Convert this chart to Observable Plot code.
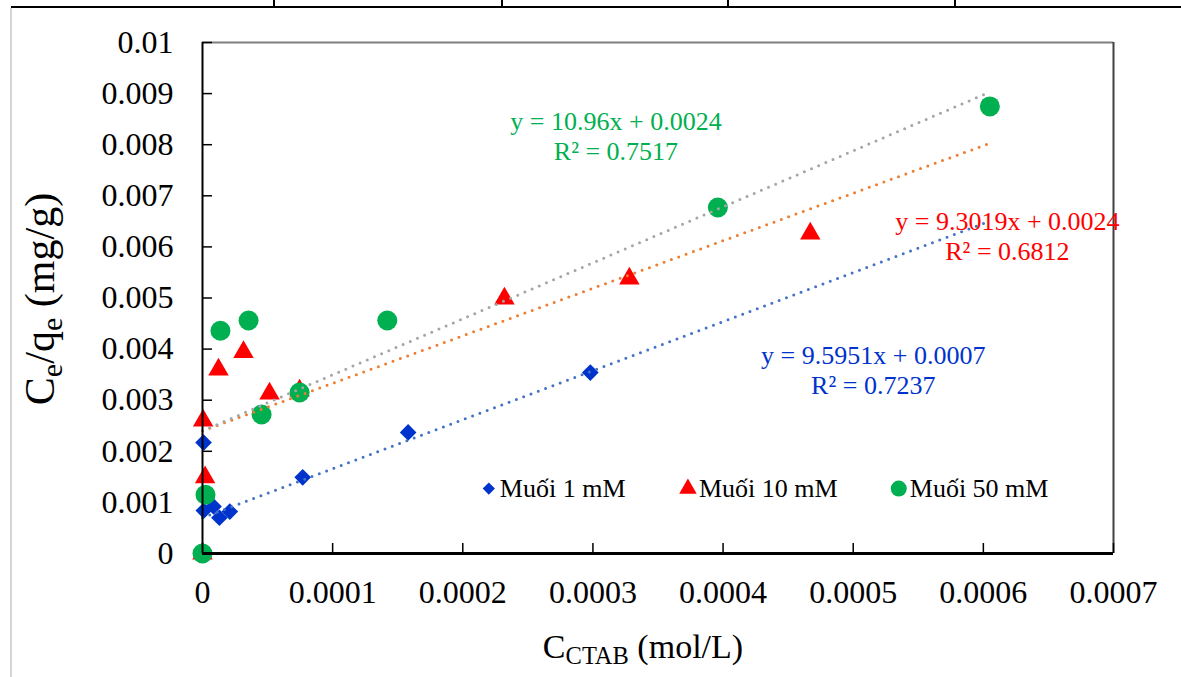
<!DOCTYPE html>
<html><head><meta charset="utf-8">
<script src="https://cdn.jsdelivr.net/npm/d3@7"></script>
<script src="https://cdn.jsdelivr.net/npm/@observablehq/plot@0.6"></script>
<style>
body{margin:0;background:#fff;}
#wrap{position:relative;width:1181px;height:677px;overflow:hidden;font-family:"Liberation Serif","Times New Roman",serif;background:#fff;}
#wrap svg{position:absolute;left:0;top:0;}
#wrap svg text{font-family:"Liberation Serif","Times New Roman",serif;}
.ttl{position:absolute;white-space:nowrap;color:#000;font-size:34px;line-height:1;}
.ttl sub{font-size:0.72em;vertical-align:-0.25em;line-height:0;}
.ln{position:absolute;}
</style></head><body><div id="wrap"></div>
<script>
// ---- data ----
const seriesNames = ["Muối 1 mM", "Muối 10 mM", "Muối 50 mM"];
const x1 = [0, 0.0000008, 0.000001, 0.0000085, 0.000013, 0.000021, 0.000077, 0.000158, 0.000298];
const y1 = [0, 0.00217, 0.00084, 0.00092, 0.0007, 0.00082, 0.00149, 0.00237, 0.00354];
const x2 = [0, 0.0000005, 0.000002, 0.0000123, 0.0000315, 0.0000515, 0.0000746, 0.000232, 0.000328, 0.000467];
const y2 = [0, 0.0026, 0.00149, 0.0036, 0.00394, 0.00313, 0.00319, 0.00499, 0.00538, 0.00626];
const x3 = [0, 0.0000023, 0.0000138, 0.0000354, 0.0000454, 0.0000746, 0.000142, 0.000396, 0.000605];
const y3 = [0, 0.00115, 0.00436, 0.00456, 0.00272, 0.00315, 0.00456, 0.00677, 0.00875];
const slopes = [9.5951, 9.3019, 10.96];
const intercepts = [0.0007, 0.0024, 0.0024];
const r2 = [0.7237, 0.6812, 0.7517];
const trendRange = [0, 0.000605];
const labelX = [0.0005154, 0.0006185, 0.0003177];
const labelY = [0.0036, 0.00622, 0.00818];
const legendX = [0.00022, 0.000373, 0.000535];
const legendY = 0.00127;
const xTicks = [0, 0.0001, 0.0002, 0.0003, 0.0004, 0.0005, 0.0006, 0.0007];
const yTicks = [0, 0.001, 0.002, 0.003, 0.004, 0.005, 0.006, 0.007, 0.008, 0.009, 0.01];
const xTitle = ["C", "CTAB", " (mol/L)"];
const yTitle = ["C", "e", "/q", "e", " (mg/g)"];

// ---- styles ----
const W = 1181, H = 677, ML = 202, MR = 68, MT = 42, MB = 124;
const xDomain = [0, 0.0007], yDomain = [0, 0.01];
const tickPx = 10;
const markerFill = ["#0033CC", "#FF0000", "#00B050"];
const symbols = ["diamond2", "triangle", "circle"];
const radii = [7.5, 7.6, 10];
const legendR = [5.5, 6.5, 8];
const trendColor = ["#4472C4", "#ED7D31", "#A5A5A5"];
const labelColor = ["#0033CC", "#FF0000", "#00B050"];
const serif = "Liberation Serif";

const fmt = d => d === 0 ? "0" : String(+d.toFixed(6));
const xs = [x1, x2, x3], ys = [y1, y2, y3];
const pts = xs.map((xa, i) => xa.map((x, j) => ({x, y: ys[i][j], s: i})));
const trends = slopes.map((m, i) => trendRange.map(x => ({x, y: m * x + intercepts[i], s: i})));
const labels = slopes.map((m, i) => ({x: labelX[i], y: labelY[i], s: i,
  text: `y = ${m}x + ${intercepts[i]}\nR² = ${r2[i]}`}));
const legend = seriesNames.map((n, i) => ({x: legendX[i], y: legendY, s: i, text: n}));
// tick length converted from pixels to data units
const tickDX = tickPx * (xDomain[1] - xDomain[0]) / (W - ML - MR);
const tickDY = tickPx * (yDomain[1] - yDomain[0]) / (H - MT - MB);

const marks = [
  Plot.ruleY([yDomain[1]], {stroke: "#7f7f7f", strokeWidth: 2}),
  Plot.ruleX([xDomain[1]], {stroke: "#404040", strokeWidth: 2}),
  // inward tick marks
  Plot.ruleY(yTicks, {y: d => d, x1: 0, x2: tickDX, stroke: "#000", strokeWidth: 1.5}),
  Plot.ruleX(xTicks, {x: d => d, y1: 0, y2: tickDY, stroke: "#000", strokeWidth: 1.5}),
  // tick labels
  Plot.text(yTicks, {x: xDomain[0], y: d => d, text: fmt, dx: -29, textAnchor: "end", fontSize: 32, fontFamily: serif, fill: "#000"}),
  Plot.text(xTicks, {x: d => d, y: yDomain[0], text: fmt, dy: 39, textAnchor: "middle", fontSize: 32, fontFamily: serif, fill: "#000"}),
];
pts.forEach((p, i) => marks.push(Plot.dot(p, {x: "x", y: "y", symbol: () => symbols[i], r: radii[i], fill: markerFill[i], stroke: "none"})));
trends.forEach((t, i) => marks.push(Plot.line(t, {x: "x", y: "y", stroke: trendColor[i], strokeWidth: 3, strokeDasharray: "0,7.8", strokeLinecap: "round"})));
labels.forEach((l, i) => marks.push(Plot.text([l], {x: "x", y: "y", text: "text", fill: labelColor[i], fontSize: 26, fontFamily: serif, lineHeight: 1.13, textAnchor: "middle"})));
legend.forEach((l, i) => {
  marks.push(Plot.dot([l], {x: "x", y: "y", symbol: () => symbols[i], r: legendR[i], fill: markerFill[i], stroke: "none"}));
  marks.push(Plot.text([l], {x: "x", y: "y", text: "text", dx: 11, textAnchor: "start", fill: "#000", fontSize: 26, fontFamily: serif}));
});
marks.push(Plot.ruleX([xDomain[0]], {stroke: "#000", strokeWidth: 2}));
marks.push(Plot.ruleY([yDomain[0]], {stroke: "#000", strokeWidth: 3}));

const chart = Plot.plot({
  width: W, height: H,
  marginLeft: ML, marginRight: MR, marginTop: MT, marginBottom: MB,
  x: {domain: xDomain, axis: null}, y: {domain: yDomain, axis: null},
  symbol: {type: "identity"},
  style: {fontFamily: serif, color: "#000", background: "transparent", overflow: "visible"},
  marks
});
const wrap = document.getElementById("wrap");
wrap.appendChild(chart);

// table-like borders
function line(l, t, w, h, c) { const d = document.createElement("div"); d.className = "ln"; Object.assign(d.style, {left: l + "px", top: t + "px", width: w + "px", height: h + "px", background: c}); wrap.appendChild(d); }
line(11, 6, 1170, 2, "#000");
[273, 501, 727, 954].forEach(x => line(x, 0, 2, 7, "#000"));
line(10, 8, 2, 669, "#d4d4d4");

// axis titles
const xt = document.createElement("div"); xt.className = "ttl";
xt.innerHTML = `${xTitle[0]}<sub>${xTitle[1]}</sub>${xTitle[2]}`;
Object.assign(xt.style, {left: "643px", top: "630px", transform: "translateX(-50%)"});
wrap.appendChild(xt);
const yt = document.createElement("div"); yt.className = "ttl";
yt.innerHTML = `${yTitle[0]}<sub>${yTitle[1]}</sub>${yTitle[2]}<sub>${yTitle[3]}</sub>${yTitle[4]}`;
Object.assign(yt.style, {left: "40px", top: "299px", fontSize: "42px", transform: "translate(-50%,-50%) rotate(-90deg)"});
wrap.appendChild(yt);
</script>
</body></html>
